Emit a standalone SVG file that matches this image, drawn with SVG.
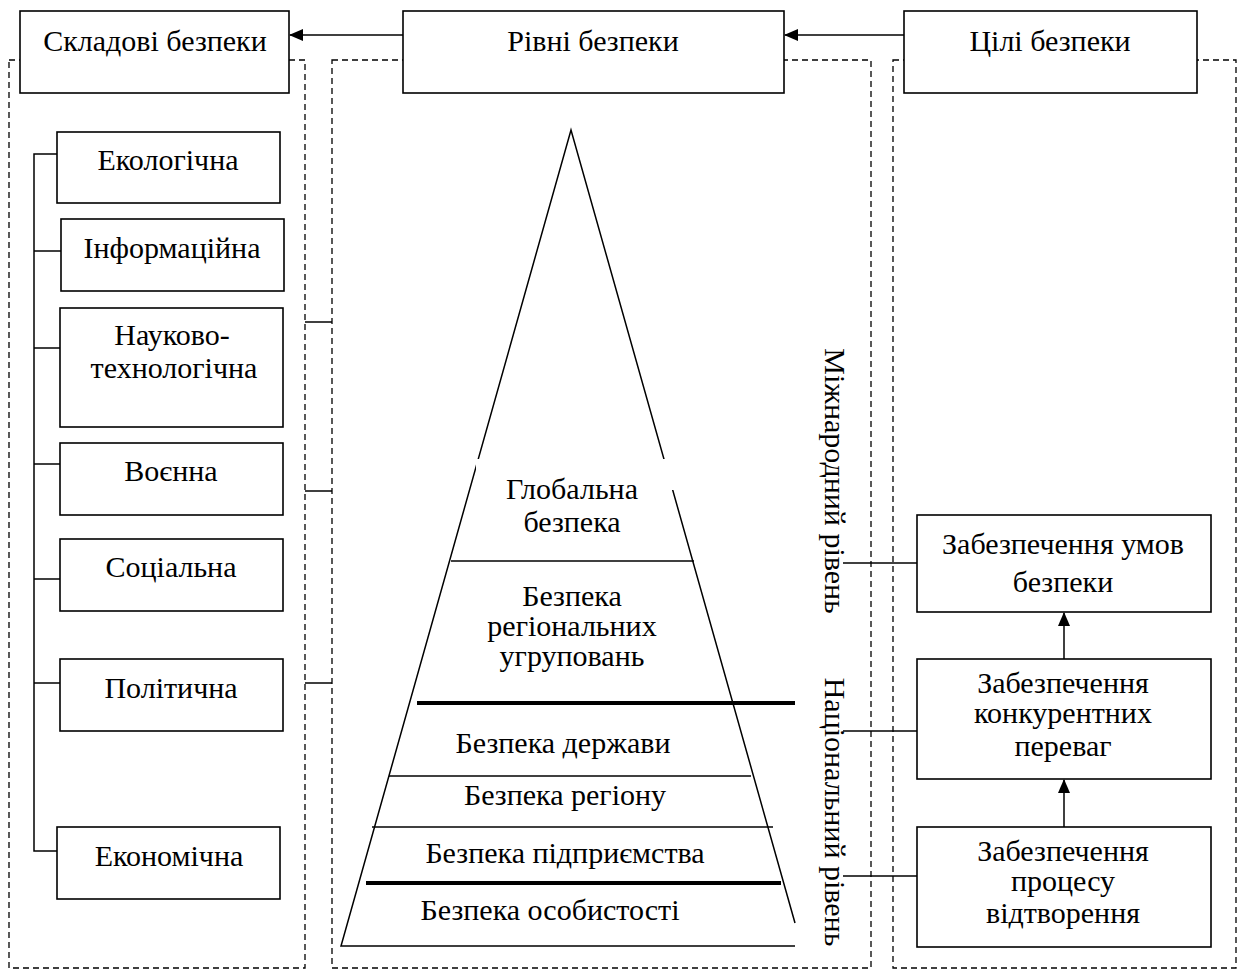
<svg xmlns="http://www.w3.org/2000/svg" width="1237" height="971" viewBox="0 0 1237 971">
<defs>
<marker id="ah" markerWidth="14" markerHeight="12" refX="13" refY="6" orient="auto" markerUnits="userSpaceOnUse">
<path d="M0,0 L14,6 L0,12 Z" fill="#000"/>
</marker>
<style>
text{font-family:"Liberation Serif","Times New Roman",serif;font-size:30px;fill:#000;text-anchor:middle}
.box{fill:#fff;stroke:#000;stroke-width:1.6}
.dash{fill:none;stroke:#000;stroke-width:1.3;stroke-dasharray:6 4}
.ln{fill:none;stroke:#000;stroke-width:1.5}
.thick{fill:none;stroke:#000;stroke-width:4}
</style>
</defs>
<rect width="1237" height="971" fill="#fff"/>
<g id="groups">
<rect class="dash" x="9" y="60" width="296" height="908"/>
<rect class="dash" x="332" y="60" width="539" height="908"/>
<rect class="dash" x="893" y="60" width="343" height="908"/>
</g>
<g id="connectors">
<line class="ln" x1="403" y1="35" x2="290" y2="35" marker-end="url(#ah)"/>
<line class="ln" x1="904" y1="35" x2="785" y2="35" marker-end="url(#ah)"/>
<polyline class="ln" points="57,154 34,154 34,851 57,851"/>
<line class="ln" x1="34" y1="251" x2="61" y2="251"/>
<line class="ln" x1="34" y1="348" x2="60" y2="348"/>
<line class="ln" x1="34" y1="464" x2="60" y2="464"/>
<line class="ln" x1="34" y1="579" x2="60" y2="579"/>
<line class="ln" x1="34" y1="683" x2="60" y2="683"/>
<line class="ln" x1="305" y1="322" x2="332" y2="322"/>
<line class="ln" x1="305" y1="491" x2="332" y2="491"/>
<line class="ln" x1="305" y1="683" x2="332" y2="683"/>
<line class="ln" x1="843" y1="563" x2="917" y2="563"/>
<line class="ln" x1="843" y1="731" x2="917" y2="731"/>
<line class="ln" x1="843" y1="876" x2="917" y2="876"/>
<line class="ln" x1="1064" y1="659" x2="1064" y2="613" marker-end="url(#ah)"/>
<line class="ln" x1="1064" y1="827" x2="1064" y2="780" marker-end="url(#ah)"/>
</g>
<g id="n-skladovi"><rect class="box" x="20" y="11" width="269" height="82"/><text x="155" y="51">Складові безпеки</text></g>
<g id="n-rivni"><rect class="box" x="403" y="11" width="381" height="82"/><text x="593" y="51">Рівні безпеки</text></g>
<g id="n-tsili"><rect class="box" x="904" y="11" width="293" height="82"/><text x="1050" y="51">Цілі безпеки</text></g>
<g id="n-ekol"><rect class="box" x="57" y="132" width="223" height="71"/><text x="168" y="170">Екологічна</text></g>
<g id="n-inform"><rect class="box" x="61" y="219" width="223" height="72"/><text x="172" y="258">Інформаційна</text></g>
<g id="n-nauk"><rect class="box" x="60" y="308" width="223" height="119"/><text x="172" y="345">Науково-</text><text x="174" y="378">технологічна</text></g>
<g id="n-voen"><rect class="box" x="60" y="443" width="223" height="72"/><text x="171" y="481">Воєнна</text></g>
<g id="n-sots"><rect class="box" x="60" y="539" width="223" height="72"/><text x="171" y="577">Соціальна</text></g>
<g id="n-polit"><rect class="box" x="60" y="659" width="223" height="72"/><text x="171" y="698">Політична</text></g>
<g id="n-ekon"><rect class="box" x="57" y="827" width="223" height="72"/><text x="169" y="866">Економічна</text></g>
<g id="pyramid">
<polyline class="ln" points="795,923 571,130 341,946 795,946"/>
<rect x="476" y="459" width="198" height="31" fill="#fff"/>
<line class="ln" x1="451" y1="561" x2="694" y2="561"/>
<line class="thick" x1="417" y1="703" x2="795" y2="703"/>
<line class="ln" x1="389" y1="776" x2="751" y2="776"/>
<line class="ln" x1="372" y1="827" x2="773" y2="827"/>
<line class="thick" x1="366" y1="883" x2="781" y2="883"/>
<text x="572" y="499">Глобальна</text>
<text x="572" y="532">безпека</text>
<text x="572" y="606">Безпека</text>
<text x="572" y="636">регіональних</text>
<text x="572" y="666">угруповань</text>
<text x="563" y="753">Безпека держави</text>
<text x="565" y="805">Безпека регіону</text>
<text x="565" y="863">Безпека підприємства</text>
<text x="550" y="920">Безпека особистості</text>
</g>
<g id="n-mizhn"><text transform="translate(825,481) rotate(90)">Міжнародний рівень</text></g>
<g id="n-nats"><text transform="translate(825,812) rotate(90)">Національний рівень</text></g>
<g id="n-umov"><rect class="box" x="917" y="515" width="294" height="97"/><text x="1063" y="554">Забезпечення умов</text><text x="1063" y="592">безпеки</text></g>
<g id="n-konk"><rect class="box" x="917" y="659" width="294" height="120"/><text x="1063" y="693">Забезпечення</text><text x="1063" y="723">конкурентних</text><text x="1063" y="756">переваг</text></g>
<g id="n-vidtv"><rect class="box" x="917" y="827" width="294" height="120"/><text x="1063" y="861">Забезпечення</text><text x="1063" y="891">процесу</text><text x="1063" y="923">відтворення</text></g>
</svg>
